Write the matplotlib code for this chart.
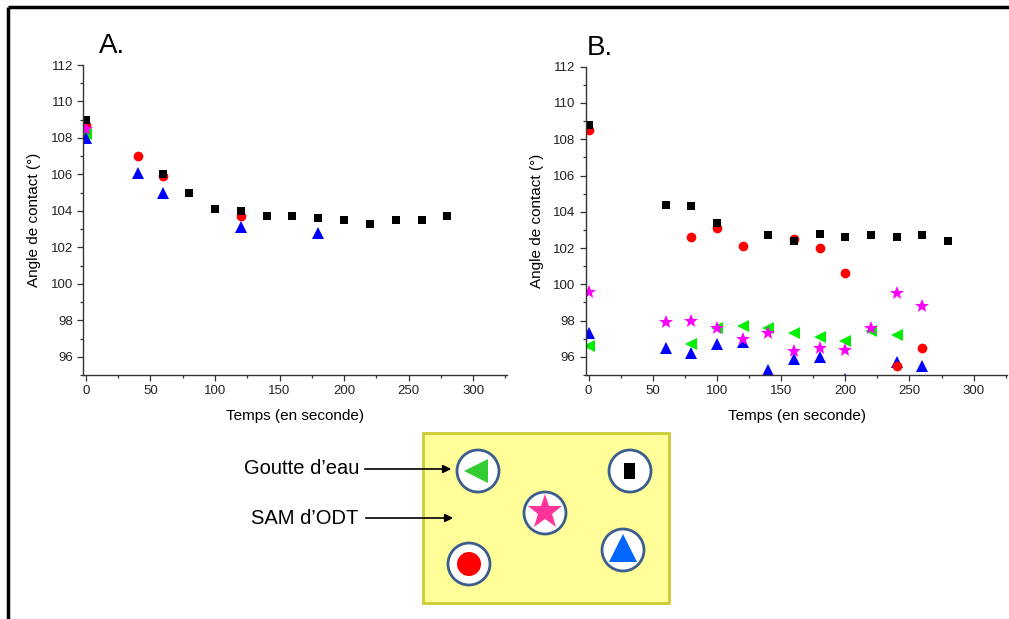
import matplotlib
matplotlib.use('Agg')
import matplotlib.pyplot as plt
from matplotlib.patches import Rectangle, Circle
from matplotlib.ticker import MultipleLocator

plt.rcParams['font.family'] = ['Liberation Sans', 'DejaVu Sans']

# Données : panneau A
a_noir_t = [0, 60, 80, 100, 120, 140, 160, 180, 200, 220, 240, 260, 280]
a_noir_v = [109.0, 106.0, 105.0, 104.1, 104.0, 103.7, 103.7, 103.6, 103.5, 103.3, 103.5, 103.5, 103.7]
a_rouge_t = [0, 40, 60, 120]
a_rouge_v = [108.7, 107.0, 105.9, 103.7]
a_bleu_t = [0, 40, 60, 120, 180]
a_bleu_v = [108.0, 106.1, 105.0, 103.1, 102.8]
a_rose_t = [0]
a_rose_v = [108.5]
a_vert_t = [0]
a_vert_v = [108.2]

# Données : panneau B
b_noir_t = [0, 60, 80, 100, 140, 160, 180, 200, 220, 240, 260, 280]
b_noir_v = [108.8, 104.4, 104.3, 103.4, 102.7, 102.4, 102.8, 102.6, 102.7, 102.6, 102.7, 102.4]
b_rouge_t = [0, 80, 100, 120, 160, 180, 200, 240, 260]
b_rouge_v = [108.5, 102.6, 103.1, 102.1, 102.5, 102.0, 100.6, 95.5, 96.5]
b_rose_t = [0, 60, 80, 100, 120, 140, 160, 180, 200, 220, 240, 260]
b_rose_v = [99.6, 97.9, 98.0, 97.6, 97.0, 97.3, 96.3, 96.5, 96.4, 97.6, 99.5, 98.8]
b_vert_t = [0, 80, 100, 120, 140, 160, 180, 200, 220, 240]
b_vert_v = [96.6, 96.7, 97.6, 97.7, 97.6, 97.3, 97.1, 96.9, 97.4, 97.2]
b_bleu_t = [0, 60, 80, 100, 120, 140, 160, 180, 200, 240, 260]
b_bleu_v = [97.3, 96.5, 96.2, 96.7, 96.8, 95.3, 95.9, 96.0, 94.8, 95.7, 95.5]

fig = plt.figure(figsize=(10.09, 6.19), dpi=100)
W, H = 1009, 619


def prepare_axe(ax, lettre, x_lettre):
    ax.set_xlim(-2, 326)
    ax.set_ylim(95, 112)
    ax.spines['top'].set_visible(False)
    ax.spines['right'].set_visible(False)
    for s in ['left', 'bottom']:
        ax.spines[s].set_linewidth(1.0)
        ax.spines[s].set_color('#333333')
    ax.xaxis.set_major_locator(MultipleLocator(50))
    ax.xaxis.set_minor_locator(MultipleLocator(25))
    ax.yaxis.set_major_locator(MultipleLocator(2))
    ax.yaxis.set_minor_locator(MultipleLocator(1))
    ax.tick_params(which='major', direction='out', length=4, width=0.9, labelsize=9.5, colors='#333333',
                   labelcolor='#222222')
    ax.tick_params(which='minor', direction='out', length=2.5, width=0.9, colors='#333333')
    ax.set_xlabel('Temps (en seconde)', fontsize=11, labelpad=8)
    ax.set_ylabel('Angle de contact (°)', fontsize=11, labelpad=7)
    ax.text(x_lettre, 1.02, lettre, transform=ax.transAxes, fontsize=20, va='bottom', ha='left')


def trace(ax, t, v, couleur, marqueur, taille):
    ax.plot(t, v, linestyle='none', marker=marqueur, color=couleur, markersize=taille,
            markeredgewidth=0, clip_on=True)


# Panneau A
axA = fig.add_axes([83.3 / W, 1 - 375 / H, (506.7 - 83.3) / W, 310 / H])
prepare_axe(axA, 'A.', 0.036)
trace(axA, a_vert_t, a_vert_v, '#00EE00', '<', 9)
trace(axA, a_bleu_t, a_bleu_v, '#0000FF', '^', 8)
trace(axA, a_rouge_t, a_rouge_v, '#FF0000', 'o', 7)
trace(axA, a_rose_t, a_rose_v, '#FF00FF', '*', 10)
trace(axA, a_noir_t, a_noir_v, '#000000', 's', 6.3)

# Panneau B
axB = fig.add_axes([586 / W, 1 - 375 / H, (1007 - 586) / W, 308.3 / H])
prepare_axe(axB, 'B.', 0.002)
trace(axB, b_vert_t, b_vert_v, '#00EE00', '<', 9)
trace(axB, b_bleu_t, b_bleu_v, '#0000FF', '^', 8)
trace(axB, b_rouge_t, b_rouge_v, '#FF0000', 'o', 7)
trace(axB, b_rose_t, b_rose_v, '#FF00FF', '*', 10)
trace(axB, b_noir_t, b_noir_v, '#000000', 's', 6.3)

# Schéma en bas (coordonnées en pixels)
sch = fig.add_axes([0, 0, 1, 1], zorder=-1)
sch.set_xlim(0, W)
sch.set_ylim(H, 0)
sch.axis('off')
sch.patch.set_alpha(0)

# cadre de la figure (haut et gauche)
sch.plot([8, W], [7, 7], color='black', lw=2.5, solid_capstyle='butt')
sch.plot([8, 8], [7, H], color='black', lw=2.5, solid_capstyle='butt')

sch.add_patch(Rectangle((423, 433), 246, 170, facecolor='#FFFF99', edgecolor='#CCCC33', lw=2))
cercles = [(478, 471), (630, 471), (545, 513), (469, 564), (623, 550)]
for cx, cy in cercles:
    sch.add_patch(Circle((cx, cy), 21, facecolor='white', edgecolor='#3B5E8C', lw=2, zorder=3))
sch.plot(476, 471, marker='<', color='#33CC33', markersize=17, markeredgewidth=0, zorder=4)
sch.add_patch(Rectangle((624, 463), 11, 16, facecolor='black', zorder=4))
sch.plot(545, 512, marker='*', color='#FF3399', markersize=26, markeredgewidth=0, zorder=4)
sch.add_patch(Circle((469, 564), 12, facecolor='#FF0000', edgecolor='none', zorder=4))
sch.plot(623, 548, marker='^', color='#0066FF', markersize=20, markeredgewidth=0, zorder=4)

sch.text(359, 468, 'Goutte d\u2019eau', fontsize=14.5, ha='right', va='center')
sch.text(358, 518, 'SAM d\u2019ODT', fontsize=14.5, ha='right', va='center')
sch.annotate('', xy=(454, 469), xytext=(362, 469),
             arrowprops=dict(arrowstyle='-|>', color='black', lw=1.2, mutation_scale=12), zorder=5)
sch.annotate('', xy=(456, 518), xytext=(363, 518),
             arrowprops=dict(arrowstyle='-|>', color='black', lw=1.2, mutation_scale=12), zorder=5)

fig.savefig('out.png', dpi=100)
